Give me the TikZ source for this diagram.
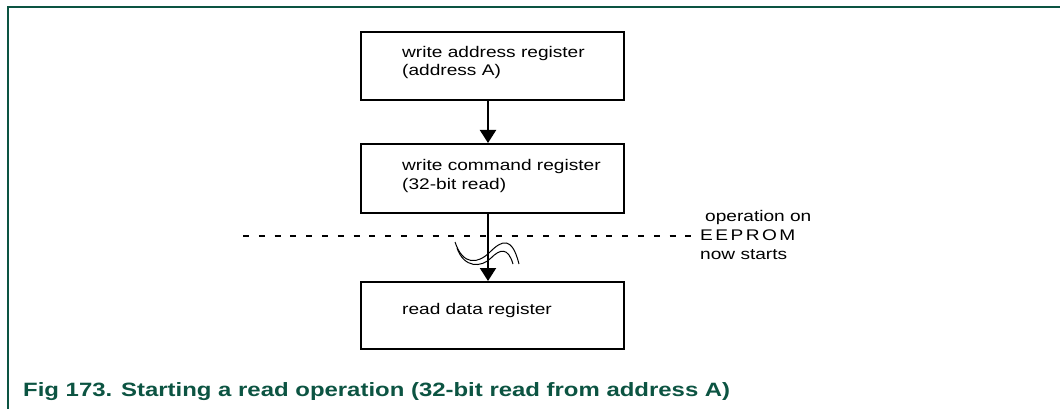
\documentclass[tikz,border=0pt]{standalone}
\usepackage{fontspec}
\setmainfont{Liberation Sans}[FakeStretch=1.24]
\usetikzlibrary{arrows.meta}
\definecolor{nxpgreen}{RGB}{12,84,66}
\tikzset{
  stepbox/.style={draw=black, line width=2pt, minimum width=263pt, anchor=north west, inner sep=0pt},
  boxtext/.style={anchor=base west, align=left, inner sep=0pt, font=\fontsize{15.4}{18.5}\selectfont},
  flow/.style={line width=2pt, -{Triangle[width=16pt,length=13pt]}},
  sidetext/.style={anchor=base west, inner sep=0pt, font=\fontsize{15.4}{19}\selectfont},
  squig/.style={line width=1pt, black},
}
\begin{document}
\begin{tikzpicture}[x=1pt,y=-1pt]
\useasboundingbox (0,0) rectangle (1060,409);
% frame
\draw[nxpgreen, line width=2pt] (8,409) -- (8,7) -- (1060,7);
% boxes
\node[stepbox, minimum height=68pt] (b1) at (360,31) {};
\node[stepbox, minimum height=69pt] (b2) at (360,143) {};
\node[stepbox, minimum height=67pt] (b3) at (360,281) {};
\node[boxtext] (t1) at (402,76) {write address register\\(address A)};
\node[boxtext] (t2) at (402,189) {write command register\\(32-bit read)};
\node[boxtext] (t3) at (402,314) {read data register};
% arrows
\draw[flow] ([xshift=-4.5pt]b1.south) -- ([xshift=-4.5pt]b2.north);
\draw[flow] ([xshift=-4.5pt]b2.south) -- ([xshift=-4.5pt]b3.north);
% dashed line
\coordinate (dl) at (243,236);
\coordinate (dr) at (693,236);
\draw[line width=2pt, dash pattern=on 6pt off 9.8pt] (dl) -- (dr);
% squiggle
\draw[squig] (455,242) .. controls (463,266) and (478,264) .. (490,252) .. controls (502,240) and (512,236) .. (519,264);
\draw[squig] (457,248) .. controls (464,268) and (481,268) .. (491,258) .. controls (500,249) and (508,247) .. (513,264);
% side text
\node[sidetext] (s1) at (705,221) {operation on};
\node[sidetext] (s2) at (700,240) {\addfontfeature{LetterSpace=16}EEPROM};
\node[sidetext] (s3) at (700,259) {now starts};
% caption
\node[anchor=base west, inner sep=0pt, text=nxpgreen, font=\fontsize{19.3}{22}\selectfont\bfseries] (cap) at (23,396) {Fig 173. Starting a read operation (32-bit read from address A)};
\end{tikzpicture}
\end{document}
